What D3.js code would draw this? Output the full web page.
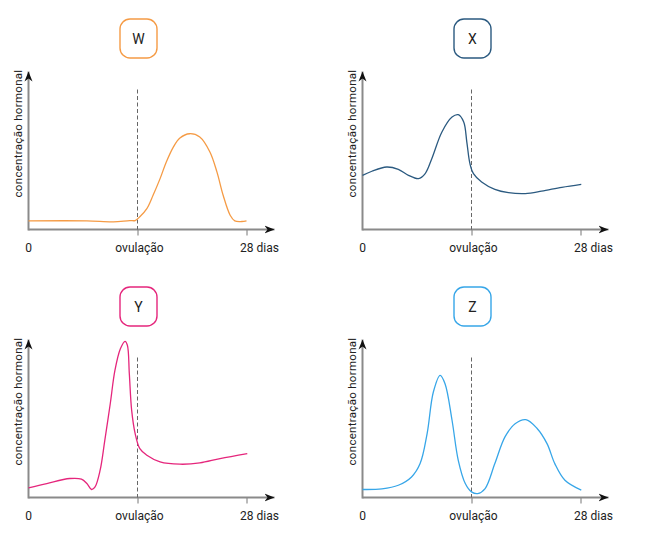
<!DOCTYPE html>
<html><head><meta charset="utf-8">
<script src="https://cdn.jsdelivr.net/npm/d3@7"></script>
<style>body{margin:0;background:#fff}svg{display:block}text{font-family:Roboto,"DejaVu Sans",sans-serif}</style>
</head><body><svg id="c" width="645" height="549"></svg>
<script>
const xTicks = [{d:0, label:"0"}, {d:14, label:"ovulação"}, {d:28, label:"28 dias"}];
const yLabel = "concentração hormonal";
const panelNames = ["W","X","Y","Z"];
const panelColors = ["#F59B45","#2B5A80","#E5267C","#37A6E8"];

const dayW = [0,7.5,10.9,13.0,13.7,14.3,15.2,16.0,16.9,17.7,18.6,19.45,20.7,22.0,23.3,24.2,25.0,25.9,26.5,27.4,28.0];
const valW = [5.5,5.5,4.9,5.7,5.7,8.1,13.3,21.8,32.4,43.0,52.5,58.3,61.0,58.9,49.4,36.7,21.8,9.1,5.5,5.1,5.5];

const dayX = [0,1.2,3.1,4.6,5.9,7.2,8.05,8.9,10.2,11.5,12.3,13.0,13.4,13.8,14.25,15.3,17.0,18.75,20.9,23.0,25.6,28.1];
const valX = [34.5,37.1,39.8,38.3,34.5,32.4,35.6,45.1,62.1,71.6,73.1,68.4,55.7,41.9,35.6,30.3,25.6,23.5,22.9,24.4,26.9,28.8];

const dayY = [0,2.35,5.3,6.8,7.5,8.1,8.55,9.2,9.8,10.5,11.1,11.8,12.4,12.7,12.95,13.25,13.7,14.3,15.2,16.9,19.45,22.0,24.6,28.1];
const valY = [6.1,8.9,12.1,11.7,8.9,5.1,6.8,17.4,36.4,59.7,80.9,94.7,99.5,97.0,78.8,55.5,40.7,31.1,26.9,22.7,21.2,22.0,24.8,28.0];

const dayZ = [0,2.5,4.6,6.3,7.4,8.3,9.1,9.97,10.6,11.5,12.3,13.2,14.0,14.8,15.75,17.0,18.3,19.6,20.98,22.4,23.7,24.7,26.0,28.1];
const valZ = [5.1,5.5,7.8,13.1,21.6,40.7,67.2,77.8,72.5,49.2,23.7,8.9,3.6,2.5,5.7,21.6,38.6,47.0,49.6,44.1,34.3,21.6,11.0,4.7];

const series = [[dayW,valW],[dayX,valX],[dayY,valY],[dayZ,valZ]];
const origins = [[28.5,229.5],[362.5,229.5],[28.5,497.5],[362.5,497.5]];

const svg = d3.select("#c");
const defs = svg.append("defs");
defs.append("marker").attr("id","arr").attr("viewBox","0 0 10 10").attr("refX",10).attr("refY",5)
  .attr("markerWidth",10).attr("markerHeight",10).attr("markerUnits","userSpaceOnUse").attr("orient","auto")
  .append("path").attr("d","M0,1 L10,5 L0,9 L3,5 Z").attr("fill","#111");

series.forEach((s,i)=>{
  const [ox, ay] = origins[i];
  const x = d3.scaleLinear().domain([0,28]).range([ox, ox+218]);
  const y = d3.scaleLinear().domain([0,100]).range([ay, ay-157]);
  const g = svg.append("g");
  g.append("g").attr("transform",`translate(0,${ay})`)
    .call(d3.axisBottom(x).tickValues([14,28]).tickSize(6).tickFormat(""))
    .call(a=>{a.select(".domain").remove(); a.selectAll("line").attr("stroke","#777").attr("stroke-width",1);});
  g.append("line").attr("x1",ox).attr("x2",ox+246).attr("y1",ay).attr("y2",ay)
    .attr("stroke","#8a8a8a").attr("stroke-width",2).attr("marker-end","url(#arr)");
  g.append("line").attr("x1",ox).attr("x2",ox).attr("y1",ay+1).attr("y2",ay-158)
    .attr("stroke","#8a8a8a").attr("stroke-width",2).attr("marker-end","url(#arr)");
  g.append("line").attr("x1",x(14)).attr("x2",x(14)).attr("y1",ay-140).attr("y2",ay)
    .attr("stroke","#666").attr("stroke-width",1).attr("stroke-dasharray","4,2.5");
  xTicks.forEach(t=>{
    const tx = g.append("text").attr("y",ay+22).attr("font-size",12).attr("fill","#222").text(t.label);
    if(t.d===28) tx.attr("x",x(28)-6.5).attr("text-anchor","start");
    else tx.attr("x",x(t.d)+(t.d===14?2:0)).attr("text-anchor","middle");
  });
  g.append("text").attr("transform",`translate(${ox-6.5},${ay-96}) rotate(-90)`)
    .attr("text-anchor","middle").attr("font-size",11.5).attr("letter-spacing",0.3).attr("fill","#222").text(yLabel);
  const pts = s[0].map((d,k)=>[d, s[1][k]]);
  g.append("path").datum(pts).attr("fill","none").attr("stroke",panelColors[i]).attr("stroke-width",1.3)
    .attr("d", d3.line().x(d=>x(d[0])).y(d=>y(d[1])).curve(d3.curveCatmullRom.alpha(0.5)));
  const cx = x(14)+1, cy = ay-191;
  g.append("rect").attr("x",cx-18.5).attr("y",cy-19.5).attr("width",37).attr("height",39).attr("rx",10)
    .attr("fill","#fff").attr("stroke",panelColors[i]).attr("stroke-width",1.4);
  g.append("text").attr("x",cx).attr("y",cy+5).attr("text-anchor","middle").attr("font-size",14).attr("fill","#222").text(panelNames[i]);
});
</script></body></html>
